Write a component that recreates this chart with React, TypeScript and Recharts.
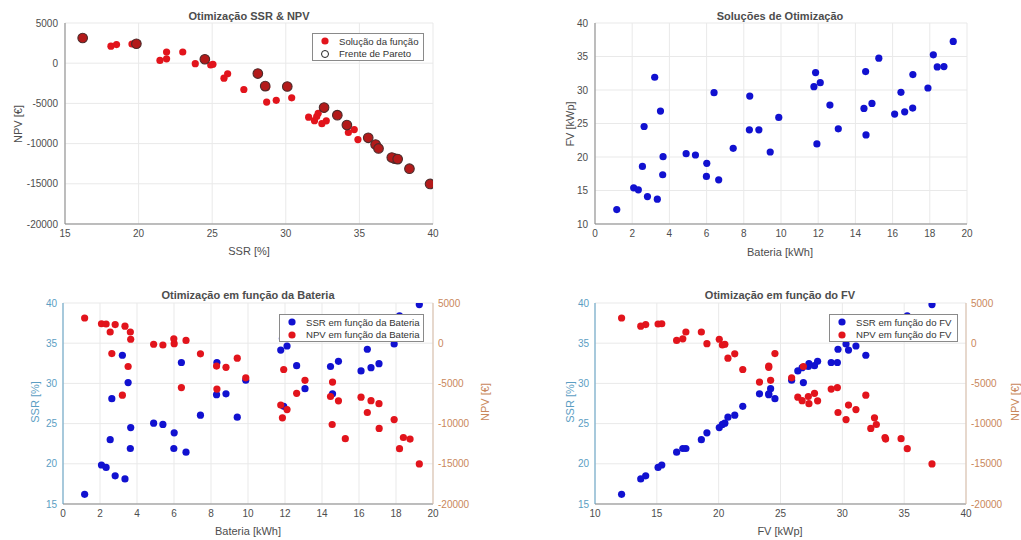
import { ScatterChart, Scatter, XAxis, YAxis, CartesianGrid } from "recharts";

// each index is one solution of the optimisation
const bateria = [
  1.17, 2.08, 2.33, 2.82, 3.35, 2.55, 2.64, 3.21, 3.52, 3.66, 3.64, 4.9, 5.4, 6.01, 5.99, 6.65, 6.4, 7.43, 8.32, 8.3,
  8.81, 9.42, 9.88, 11.77, 11.86, 12.11, 11.93, 12.63, 13.08, 14.46, 14.55, 14.57, 14.89, 15.26, 16.11, 16.45, 16.65,
  17.08, 17.09, 17.9, 18.19, 18.4, 18.76, 19.26,
];
const fv = [
  12.15, 15.4, 15.1, 14.1, 13.7, 18.6, 24.55, 31.9, 26.85, 20.05, 17.35, 20.5, 20.3, 19.05, 17.1, 16.6, 29.6, 21.3,
  29.1, 24.05, 24.05, 20.75, 25.9, 30.5, 32.6, 31.1, 21.95, 27.75, 24.2, 27.25, 32.75, 23.3, 28.0, 34.75, 26.4, 29.65,
  26.75, 27.3, 32.3, 30.3, 35.25, 33.45, 33.5, 37.25,
];
const ssr = [
  16.2, 19.85, 19.55, 18.5, 18.12, 23.0, 28.1, 33.5, 30.1, 24.5, 21.9, 25.05, 24.9, 23.85, 21.9, 21.45, 32.6, 26.05,
  32.6, 28.6, 28.7, 25.8, 30.4, 34.15, 35.6, 34.65, 27.15, 32.2, 29.35, 32.1, 36.1, 28.7, 32.75, 37.4, 31.55, 34.25,
  31.95, 32.45, 36.3, 34.9, 38.4, 37.2, 37.6, 39.8,
];
const npv = [
  3134, 2420, 2390, 2320, 2120, 1392, -1290, -6460, -2900, 490, 1392, -130, -225, -60, 540, 340, -5520, -1320, -5710,
  -2850, -3000, -1860, -4310, -7690, -9280, -8250, -3270, -6240, -4620, -6630, -10110, -4830, -7170, -11880, -6710,
  -8620, -7150, -7520, -10600, -9500, -13120, -11730, -11930, -15020,
];
// solutions on the Pareto front
const paretoIdx = [0, 1, 6, 7, 8, 9, 16, 19, 23, 24, 30, 33, 38, 40, 41, 42, 43];

const ssrTicks = [15, 20, 25, 30, 35, 40];
const npvTicks = [-20000, -15000, -10000, -5000, 0, 5000];
const bateriaTicks = [0, 2, 4, 6, 8, 10, 12, 14, 16, 18, 20];
const fvTicks = [10, 15, 20, 25, 30, 35, 40];

const RED = "#e2141c";
const BLUE = "#1111d0";
const SSR_COLOR = "#5b9ec3";
const NPV_COLOR = "#c9875b";
const AXIS = "#858585";
const GRID = "#e9e9e9";
const FONT = "'Liberation Sans', Arial, Helvetica, sans-serif";

const solucoes = bateria.map((b, i) => ({ bateria: b, fv: fv[i], ssr: ssr[i], npv: npv[i] }));
const pareto = paretoIdx.map((i) => solucoes[i]);

const tick = { fontSize: 10, fill: "#4d4d4d", fontFamily: FONT };

const dot = (fill: string) => (p: any) => <circle cx={p.cx} cy={p.cy} r={3.6} fill={fill} />;
const paretoDot = (p: any) => (
  <circle cx={p.cx} cy={p.cy} r={4.8} fill="#b31a1a" stroke="#4d2b2b" strokeWidth={1.1} />
);

const Label = ({ x, y, text, bold, rotate, color, size }: any) => (
  <div
    style={{
      position: "absolute",
      left: x,
      top: y,
      transform: `translate(-50%, -50%)${rotate ? " rotate(-90deg)" : ""}`,
      whiteSpace: "nowrap",
      fontFamily: FONT,
      fontSize: size || 11,
      fontWeight: bold ? 700 : 400,
      color: color || "#4d4d4d",
      lineHeight: 1,
    }}>
    {text}
  </div>
);

const LegendBox = ({ left, top, width, items }: any) => (
  <div
    style={{
      position: "absolute",
      left,
      top,
      width,
      height: 28,
      border: "1px solid #8a8a8a",
      background: "#fff",
      fontFamily: FONT,
      fontSize: 9.6,
      color: "#333",
      boxSizing: "border-box",
      whiteSpace: "nowrap",
    }}>
    {items.map((it: any, i: number) => (
      <div key={i} style={{ position: "absolute", left: 6, top: 1 + i * 12.5, height: 12, display: "flex", alignItems: "center" }}>
        <svg width={12} height={12} style={{ marginRight: 8, flexShrink: 0 }}>
          {it.open ? (
            <circle cx={6} cy={6} r={3.5} fill="none" stroke="#222" strokeWidth={1} />
          ) : (
            <circle cx={6} cy={6} r={3.6} fill={it.color} />
          )}
        </svg>
        <span>{it.label}</span>
      </div>
    ))}
  </div>
);

const Box = ({ left, top, children }: any) => (
  <div style={{ position: "absolute", left, top }}>{children}</div>
);

export default function App() {
  return (
    <div
      style={{
        position: "absolute",
        left: 0,
        top: 0,
        width: 1021,
        height: 540,
        background: "#fff",
        overflow: "hidden",
      }}>
      {/* SSR vs NPV with Pareto front */}
      <Box left={0} top={0}>
        <ScatterChart width={460} height={262} margin={{ top: 23, right: 27, bottom: 0, left: 0 }}>
          <CartesianGrid stroke={GRID} />
          <XAxis type="number" dataKey="ssr" domain={[15, 40]} ticks={ssrTicks} height={38} stroke={AXIS}
            tickLine={false} tickSize={0} tickMargin={6} tick={tick} allowDataOverflow />
          <YAxis type="number" dataKey="npv" domain={[-20000, 5000]} ticks={npvTicks} width={65} stroke={AXIS}
            tickLine={false} tickSize={0} tickMargin={7} tick={tick} allowDataOverflow />
          <Scatter data={solucoes} shape={dot(RED)} isAnimationActive={false} />
          <Scatter data={pareto} shape={paretoDot} isAnimationActive={false} />
        </ScatterChart>
      </Box>
      <Label x={249} y={16} text="Otimização SSR & NPV" bold />
      <Label x={249} y={251} text="SSR [%]" />
      <Label x={18} y={124} text="NPV [€]" rotate />
      <LegendBox left={312} top={33} width={112} items={[
        { label: "Solução da função", color: RED },
        { label: "Frente de Pareto", open: true },
      ]} />

      {/* battery vs PV */}
      <Box left={540} top={0}>
        <ScatterChart width={460} height={262} margin={{ top: 23, right: 33, bottom: 0, left: 0 }}>
          <CartesianGrid stroke={GRID} />
          <XAxis type="number" dataKey="bateria" domain={[0, 20]} ticks={bateriaTicks} height={38} stroke={AXIS}
            tickLine={false} tickSize={0} tickMargin={6} tick={tick} allowDataOverflow />
          <YAxis type="number" dataKey="fv" domain={[10, 40]} ticks={fvTicks} width={55} stroke={AXIS}
            tickLine={false} tickSize={0} tickMargin={7} tick={tick} allowDataOverflow />
          <Scatter data={solucoes} shape={dot(BLUE)} isAnimationActive={false} />
        </ScatterChart>
      </Box>
      <Label x={780} y={16} text="Soluções de Otimização" bold />
      <Label x={780} y={252} text="Bateria [kWh]" />
      <Label x={570} y={124} text="FV [kWp]" rotate />

      {/* SSR and NPV against battery */}
      <Box left={0} top={280}>
        <ScatterChart width={500} height={260} margin={{ top: 23, right: 0, bottom: 0, left: 0 }}>
          <CartesianGrid stroke={GRID} yAxisId="ssr" />
          <XAxis type="number" dataKey="bateria" domain={[0, 20]} ticks={bateriaTicks} height={36} stroke={AXIS}
            tickLine={false} tickSize={0} tickMargin={6} tick={tick} allowDataOverflow />
          <YAxis yAxisId="ssr" type="number" dataKey="ssr" domain={[15, 40]} ticks={ssrTicks} width={63}
            stroke={SSR_COLOR} tickLine={false} tickSize={0} tickMargin={6} tick={{ ...tick, fill: SSR_COLOR }}
            allowDataOverflow />
          <YAxis yAxisId="npv" orientation="right" type="number" dataKey="npv" domain={[-20000, 5000]}
            ticks={npvTicks} width={67} stroke="#d9bca6" tickLine={false} tickSize={0} tickMargin={5}
            tick={{ ...tick, fill: NPV_COLOR }} allowDataOverflow />
          <Scatter yAxisId="ssr" data={solucoes} shape={dot(BLUE)} isAnimationActive={false} />
          <Scatter yAxisId="npv" data={solucoes} shape={dot(RED)} isAnimationActive={false} />
        </ScatterChart>
      </Box>
      <Label x={248} y={295} text="Otimização em função da Bateria" bold />
      <Label x={248} y={531} text="Bateria [kWh]" />
      <Label x={35} y={402} text="SSR [%]" rotate color={SSR_COLOR} />
      <Label x={485} y={402} text="NPV [€]" rotate color={NPV_COLOR} />
      <LegendBox left={279} top={314} width={145} items={[
        { label: "SSR em função da Bateria", color: BLUE },
        { label: "NPV em função da Bateria", color: RED },
      ]} />

      {/* SSR and NPV against PV */}
      <Box left={540} top={280}>
        <ScatterChart width={481} height={260} margin={{ top: 23, right: 0, bottom: 0, left: 0 }}>
          <CartesianGrid stroke={GRID} yAxisId="ssr" />
          <XAxis type="number" dataKey="fv" domain={[10, 40]} ticks={fvTicks} height={36} stroke={AXIS}
            tickLine={false} tickSize={0} tickMargin={6} tick={tick} allowDataOverflow />
          <YAxis yAxisId="ssr" type="number" dataKey="ssr" domain={[15, 40]} ticks={ssrTicks} width={55}
            stroke={SSR_COLOR} tickLine={false} tickSize={0} tickMargin={6} tick={{ ...tick, fill: SSR_COLOR }}
            allowDataOverflow />
          <YAxis yAxisId="npv" orientation="right" type="number" dataKey="npv" domain={[-20000, 5000]}
            ticks={npvTicks} width={55} stroke="#d9bca6" tickLine={false} tickSize={0} tickMargin={5}
            tick={{ ...tick, fill: NPV_COLOR }} allowDataOverflow />
          <Scatter yAxisId="ssr" data={solucoes} shape={dot(BLUE)} isAnimationActive={false} />
          <Scatter yAxisId="npv" data={solucoes} shape={dot(RED)} isAnimationActive={false} />
        </ScatterChart>
      </Box>
      <Label x={780} y={295} text="Otimização em função do FV" bold />
      <Label x={780} y={531} text="FV [kWp]" />
      <Label x={570} y={402} text="SSR [%]" rotate color={SSR_COLOR} />
      <Label x={1015} y={402} text="NPV [€]" rotate color={NPV_COLOR} />
      <LegendBox left={829} top={314} width={129} items={[
        { label: "SSR em função do FV", color: BLUE },
        { label: "NPV em função do FV", color: RED },
      ]} />
    </div>
  );
}
